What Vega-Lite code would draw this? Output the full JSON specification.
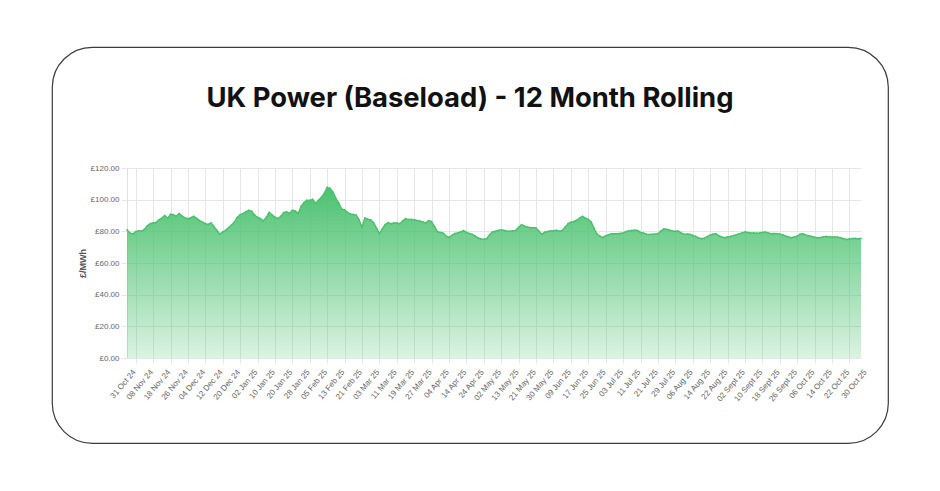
{
"$schema": "https://vega.github.io/schema/vega-lite/v6.json",
"width": 836, "height": 396,
"autosize": {"type": "none"},
"padding": {"left": 52, "top": 47, "right": 52, "bottom": 48},
"background": "white",
"title": {"text": "UK Power (Baseload) - 12 Month Rolling", "font": "Inter", "fontSize": 27.4, "fontWeight": 700, "color": "#111111", "anchor": "middle", "frame": "group", "offset": -87, "baseline": "alphabetic"},
"data": {"values": [
{"d":"31 Oct 24","p":81.0},{"d":"01 Nov 24","p":79.0},{"d":"04 Nov 24","p":78.2},{"d":"05 Nov 24","p":79.8},{"d":"06 Nov 24","p":80.3},{"d":"07 Nov 24","p":80.0},{"d":"08 Nov 24","p":81.2},{"d":"11 Nov 24","p":83.5},{"d":"12 Nov 24","p":84.8},{"d":"13 Nov 24","p":85.3},{"d":"14 Nov 24","p":85.6},{"d":"15 Nov 24","p":87.2},{"d":"18 Nov 24","p":88.4},{"d":"19 Nov 24","p":90.0},{"d":"20 Nov 24","p":88.2},{"d":"21 Nov 24","p":90.8},{"d":"22 Nov 24","p":90.5},{"d":"25 Nov 24","p":89.6},{"d":"26 Nov 24","p":91.2},{"d":"27 Nov 24","p":89.6},{"d":"28 Nov 24","p":88.5},{"d":"29 Nov 24","p":88.0},
{"d":"02 Dec 24","p":88.6},{"d":"03 Dec 24","p":89.5},{"d":"04 Dec 24","p":88.2},{"d":"05 Dec 24","p":86.8},{"d":"06 Dec 24","p":85.8},{"d":"09 Dec 24","p":84.8},{"d":"10 Dec 24","p":84.4},{"d":"11 Dec 24","p":85.3},{"d":"12 Dec 24","p":83.0},{"d":"13 Dec 24","p":80.5},{"d":"16 Dec 24","p":78.2},{"d":"17 Dec 24","p":79.6},{"d":"18 Dec 24","p":80.6},{"d":"19 Dec 24","p":82.3},{"d":"20 Dec 24","p":84.0},{"d":"23 Dec 24","p":85.8},{"d":"24 Dec 24","p":88.8},{"d":"27 Dec 24","p":90.6},{"d":"30 Dec 24","p":91.2},{"d":"31 Dec 24","p":92.4},
{"d":"02 Jan 25","p":93.3},{"d":"03 Jan 25","p":92.6},{"d":"06 Jan 25","p":90.2},{"d":"07 Jan 25","p":88.9},{"d":"08 Jan 25","p":88.0},{"d":"09 Jan 25","p":86.6},{"d":"10 Jan 25","p":88.8},{"d":"13 Jan 25","p":92.0},{"d":"14 Jan 25","p":90.4},{"d":"15 Jan 25","p":89.0},{"d":"16 Jan 25","p":88.1},{"d":"17 Jan 25","p":89.4},{"d":"20 Jan 25","p":91.8},{"d":"21 Jan 25","p":92.3},{"d":"22 Jan 25","p":91.4},{"d":"23 Jan 25","p":93.2},{"d":"24 Jan 25","p":92.8},{"d":"27 Jan 25","p":91.3},{"d":"28 Jan 25","p":95.8},{"d":"29 Jan 25","p":98.2},{"d":"30 Jan 25","p":99.6},{"d":"31 Jan 25","p":99.5},
{"d":"03 Feb 25","p":100.2},{"d":"04 Feb 25","p":97.6},{"d":"05 Feb 25","p":99.6},{"d":"06 Feb 25","p":101.5},{"d":"07 Feb 25","p":104.0},{"d":"10 Feb 25","p":107.8},{"d":"11 Feb 25","p":107.2},{"d":"12 Feb 25","p":104.8},{"d":"13 Feb 25","p":100.8},{"d":"14 Feb 25","p":97.8},{"d":"17 Feb 25","p":94.0},{"d":"18 Feb 25","p":93.5},{"d":"19 Feb 25","p":92.0},{"d":"20 Feb 25","p":90.9},{"d":"21 Feb 25","p":90.6},{"d":"24 Feb 25","p":90.2},{"d":"25 Feb 25","p":87.2},{"d":"26 Feb 25","p":82.6},{"d":"27 Feb 25","p":88.4},{"d":"28 Feb 25","p":87.6},
{"d":"03 Mar 25","p":87.2},{"d":"04 Mar 25","p":85.5},{"d":"05 Mar 25","p":82.0},{"d":"06 Mar 25","p":78.6},{"d":"07 Mar 25","p":81.5},{"d":"10 Mar 25","p":84.3},{"d":"11 Mar 25","p":85.5},{"d":"12 Mar 25","p":84.8},{"d":"13 Mar 25","p":85.2},{"d":"14 Mar 25","p":85.3},{"d":"17 Mar 25","p":84.8},{"d":"18 Mar 25","p":86.5},{"d":"19 Mar 25","p":88.0},{"d":"20 Mar 25","p":87.4},{"d":"21 Mar 25","p":87.5},{"d":"24 Mar 25","p":87.3},{"d":"25 Mar 25","p":86.8},{"d":"26 Mar 25","p":86.4},{"d":"27 Mar 25","p":85.9},{"d":"28 Mar 25","p":85.3},{"d":"31 Mar 25","p":86.8},
{"d":"01 Apr 25","p":86.2},{"d":"02 Apr 25","p":83.0},{"d":"03 Apr 25","p":79.8},{"d":"04 Apr 25","p":79.3},{"d":"07 Apr 25","p":78.8},{"d":"08 Apr 25","p":77.0},{"d":"09 Apr 25","p":76.2},{"d":"10 Apr 25","p":77.5},{"d":"11 Apr 25","p":78.6},{"d":"14 Apr 25","p":79.0},{"d":"15 Apr 25","p":79.6},{"d":"16 Apr 25","p":80.4},{"d":"17 Apr 25","p":79.3},{"d":"22 Apr 25","p":78.6},{"d":"23 Apr 25","p":78.1},{"d":"24 Apr 25","p":77.0},{"d":"25 Apr 25","p":75.8},{"d":"28 Apr 25","p":75.2},{"d":"29 Apr 25","p":75.0},{"d":"30 Apr 25","p":75.4},
{"d":"01 May 25","p":77.8},{"d":"02 May 25","p":79.6},{"d":"06 May 25","p":80.0},{"d":"07 May 25","p":80.6},{"d":"08 May 25","p":81.0},{"d":"09 May 25","p":80.6},{"d":"12 May 25","p":80.1},{"d":"13 May 25","p":80.0},{"d":"14 May 25","p":80.3},{"d":"15 May 25","p":80.6},{"d":"16 May 25","p":82.5},{"d":"19 May 25","p":84.2},{"d":"20 May 25","p":83.3},{"d":"21 May 25","p":82.7},{"d":"22 May 25","p":82.4},{"d":"23 May 25","p":82.3},{"d":"27 May 25","p":82.1},{"d":"28 May 25","p":80.0},{"d":"29 May 25","p":78.2},{"d":"30 May 25","p":79.4},
{"d":"02 Jun 25","p":79.9},{"d":"03 Jun 25","p":80.2},{"d":"04 Jun 25","p":80.4},{"d":"05 Jun 25","p":80.6},{"d":"06 Jun 25","p":80.0},{"d":"09 Jun 25","p":80.5},{"d":"10 Jun 25","p":82.6},{"d":"11 Jun 25","p":84.8},{"d":"12 Jun 25","p":85.7},{"d":"13 Jun 25","p":86.2},{"d":"16 Jun 25","p":87.0},{"d":"17 Jun 25","p":88.4},{"d":"18 Jun 25","p":89.4},{"d":"19 Jun 25","p":88.3},{"d":"20 Jun 25","p":87.6},{"d":"23 Jun 25","p":86.0},{"d":"24 Jun 25","p":81.7},{"d":"25 Jun 25","p":78.3},{"d":"26 Jun 25","p":77.0},{"d":"27 Jun 25","p":76.0},{"d":"30 Jun 25","p":77.2},
{"d":"01 Jul 25","p":77.8},{"d":"02 Jul 25","p":78.5},{"d":"03 Jul 25","p":78.4},{"d":"04 Jul 25","p":78.5},{"d":"07 Jul 25","p":78.7},{"d":"08 Jul 25","p":78.9},{"d":"09 Jul 25","p":79.8},{"d":"10 Jul 25","p":80.3},{"d":"11 Jul 25","p":80.6},{"d":"14 Jul 25","p":80.7},{"d":"15 Jul 25","p":80.5},{"d":"16 Jul 25","p":79.3},{"d":"17 Jul 25","p":78.9},{"d":"18 Jul 25","p":78.2},{"d":"21 Jul 25","p":78.0},{"d":"22 Jul 25","p":78.1},{"d":"23 Jul 25","p":78.2},{"d":"24 Jul 25","p":78.5},{"d":"25 Jul 25","p":80.2},{"d":"28 Jul 25","p":81.5},{"d":"29 Jul 25","p":81.3},{"d":"30 Jul 25","p":80.7},{"d":"31 Jul 25","p":80.2},
{"d":"01 Aug 25","p":80.0},{"d":"04 Aug 25","p":80.2},{"d":"05 Aug 25","p":79.0},{"d":"06 Aug 25","p":78.1},{"d":"07 Aug 25","p":78.2},{"d":"08 Aug 25","p":78.1},{"d":"11 Aug 25","p":77.4},{"d":"12 Aug 25","p":76.8},{"d":"13 Aug 25","p":75.8},{"d":"14 Aug 25","p":75.4},{"d":"15 Aug 25","p":75.5},{"d":"18 Aug 25","p":76.6},{"d":"19 Aug 25","p":77.6},{"d":"20 Aug 25","p":78.2},{"d":"21 Aug 25","p":78.5},{"d":"22 Aug 25","p":77.2},{"d":"26 Aug 25","p":76.4},{"d":"27 Aug 25","p":76.0},{"d":"28 Aug 25","p":76.4},{"d":"29 Aug 25","p":76.8},
{"d":"01 Sept 25","p":77.3},{"d":"02 Sept 25","p":77.8},{"d":"03 Sept 25","p":78.4},{"d":"04 Sept 25","p":79.0},{"d":"05 Sept 25","p":79.6},{"d":"08 Sept 25","p":79.2},{"d":"09 Sept 25","p":78.9},{"d":"10 Sept 25","p":79.0},{"d":"11 Sept 25","p":78.8},{"d":"12 Sept 25","p":78.9},{"d":"15 Sept 25","p":79.3},{"d":"16 Sept 25","p":79.5},{"d":"17 Sept 25","p":79.0},{"d":"18 Sept 25","p":78.5},{"d":"19 Sept 25","p":78.6},{"d":"22 Sept 25","p":78.5},{"d":"23 Sept 25","p":78.2},{"d":"24 Sept 25","p":77.8},{"d":"25 Sept 25","p":77.0},{"d":"26 Sept 25","p":76.4},{"d":"29 Sept 25","p":76.0},{"d":"30 Sept 25","p":76.4},
{"d":"01 Oct 25","p":76.9},{"d":"02 Oct 25","p":78.2},{"d":"03 Oct 25","p":78.4},{"d":"06 Oct 25","p":77.6},{"d":"07 Oct 25","p":77.2},{"d":"08 Oct 25","p":76.8},{"d":"09 Oct 25","p":76.3},{"d":"10 Oct 25","p":76.0},{"d":"13 Oct 25","p":76.1},{"d":"14 Oct 25","p":76.5},{"d":"15 Oct 25","p":76.8},{"d":"16 Oct 25","p":76.5},{"d":"17 Oct 25","p":76.4},{"d":"20 Oct 25","p":76.4},{"d":"21 Oct 25","p":76.3},{"d":"22 Oct 25","p":76.0},{"d":"23 Oct 25","p":75.3},{"d":"24 Oct 25","p":74.8},{"d":"27 Oct 25","p":75.2},{"d":"28 Oct 25","p":75.4},{"d":"29 Oct 25","p":75.5},{"d":"30 Oct 25","p":75.3},{"d":"31 Oct 25","p":75.5}
]},
"layer": [
{
"mark": {"type": "area", "interpolate": "linear", "color": {"gradient": "linear", "x1": 0, "y1": 1, "x2": 0, "y2": 0, "stops": [{"offset": 0, "color": "rgba(76,194,112,0.2)"}, {"offset": 1, "color": "rgba(76,194,112,1)"}]}},
"encoding": {
"x": {"field": "d", "type": "ordinal", "sort": null, "scale": {"type": "point", "range": [75, 809], "padding": 0},
"axis": {"orient": "top", "offset": -121, "values": ["05 Nov 24","13 Nov 24","21 Nov 24","29 Nov 24","09 Dec 24","17 Dec 24","27 Dec 24","07 Jan 25","15 Jan 25","23 Jan 25","31 Jan 25","10 Feb 25","18 Feb 25","26 Feb 25","06 Mar 25","14 Mar 25","24 Mar 25","01 Apr 25","09 Apr 25","17 Apr 25","29 Apr 25","08 May 25","16 May 25","27 May 25","04 Jun 25","12 Jun 25","20 Jun 25","30 Jun 25","08 Jul 25","16 Jul 25","24 Jul 25","01 Aug 25","11 Aug 25","19 Aug 25","28 Aug 25","05 Sept 25","15 Sept 25","23 Sept 25","01 Oct 25","09 Oct 25","17 Oct 25","27 Oct 25"], "labels": false, "title": null, "domain": false, "grid": true, "gridColor": "#e6e6e6", "gridWidth": 1, "ticks": false, "zindex": 0}},
"y": {"field": "p", "type": "quantitative", "scale": {"domain": [0, 120], "range": [311, 121], "nice": false, "zero": true},
"axis": {"orient": "left", "offset": -75, "values": [0, 20, 40, 60, 80, 100, 120], "labelExpr": "'£' + format(datum.value, '.2f')", "labelFont": "Liberation Sans", "labelFontSize": 8, "labelColor": "#666666", "labelPadding": 2, "tickSize": 6, "tickColor": "#e6e6e6", "grid": true, "gridColor": "#e6e6e6", "domain": true, "domainColor": "#e0e0e0", "title": "£/MWh", "titleFont": "Liberation Sans", "titleFontSize": 9, "titleFontWeight": "bold", "titleColor": "#555555", "titlePadding": 3, "zindex": 0}}
}
},
{
"mark": {"type": "line", "color": "#4cc270", "strokeWidth": 1.5, "interpolate": "linear"},
"encoding": {
"x": {"field": "d", "type": "ordinal", "sort": null, "scale": {"type": "point", "range": [75, 809], "padding": 0},
"axis": {"orient": "bottom", "offset": -85, "values": ["31 Oct 24","08 Nov 24","18 Nov 24","26 Nov 24","04 Dec 24","12 Dec 24","20 Dec 24","02 Jan 25","10 Jan 25","20 Jan 25","28 Jan 25","05 Feb 25","13 Feb 25","21 Feb 25","03 Mar 25","11 Mar 25","19 Mar 25","27 Mar 25","04 Apr 25","14 Apr 25","24 Apr 25","02 May 25","13 May 25","21 May 25","30 May 25","09 Jun 25","17 Jun 25","25 Jun 25","03 Jul 25","11 Jul 25","21 Jul 25","29 Jul 25","06 Aug 25","14 Aug 25","22 Aug 25","02 Sept 25","10 Sept 25","18 Sept 25","26 Sept 25","06 Oct 25","14 Oct 25","22 Oct 25","30 Oct 25"], "grid": false, "ticks": false, "tickSize": 0, "domain": false, "title": null, "labelAngle": -50, "labelAlign": "right", "labelBaseline": "top", "labelPadding": 10, "labelOffset": 4, "labelFont": "Liberation Sans", "labelFontSize": 8, "labelColor": "#666666", "labelOverlap": false, "labelBound": false}},
"y": {"field": "p", "type": "quantitative", "scale": {"domain": [0, 120], "range": [311, 121], "nice": false, "zero": true},
"axis": {"orient": "left", "offset": -75, "values": [0, 20, 40, 60, 80, 100, 120], "labelExpr": "'£' + format(datum.value, '.2f')", "labelFont": "Liberation Sans", "labelFontSize": 8, "labelColor": "#666666", "labelPadding": 2, "tickSize": 6, "tickColor": "#e6e6e6", "grid": true, "gridColor": "#e6e6e6", "domain": true, "domainColor": "#e0e0e0", "title": "£/MWh", "titleFont": "Liberation Sans", "titleFontSize": 9, "titleFontWeight": "bold", "titleColor": "#555555", "titlePadding": 3, "zindex": 0}}
}
},
{
"mark": {"type": "point", "filled": true, "size": 3, "color": "#4cc270", "opacity": 1},
"encoding": {
"x": {"field": "d", "type": "ordinal", "sort": null, "scale": {"type": "point", "range": [75, 809], "padding": 0},
"axis": {"orient": "bottom", "offset": -85, "values": ["05 Nov 24","13 Nov 24","21 Nov 24","29 Nov 24","09 Dec 24","17 Dec 24","27 Dec 24","07 Jan 25","15 Jan 25","23 Jan 25","31 Jan 25","10 Feb 25","18 Feb 25","26 Feb 25","06 Mar 25","14 Mar 25","24 Mar 25","01 Apr 25","09 Apr 25","17 Apr 25","29 Apr 25","08 May 25","16 May 25","27 May 25","04 Jun 25","12 Jun 25","20 Jun 25","30 Jun 25","08 Jul 25","16 Jul 25","24 Jul 25","01 Aug 25","11 Aug 25","19 Aug 25","28 Aug 25","05 Sept 25","15 Sept 25","23 Sept 25","01 Oct 25","09 Oct 25","17 Oct 25","27 Oct 25"], "labels": false, "title": null, "domain": false, "grid": false, "ticks": true, "tickSize": 5, "tickColor": "#e6e6e6", "zindex": 0}},
"y": {"field": "p", "type": "quantitative", "scale": {"domain": [0, 120], "range": [311, 121], "nice": false, "zero": true},
"axis": {"orient": "left", "offset": -75, "values": [0, 20, 40, 60, 80, 100, 120], "labelExpr": "'£' + format(datum.value, '.2f')", "labelFont": "Liberation Sans", "labelFontSize": 8, "labelColor": "#666666", "labelPadding": 2, "tickSize": 6, "tickColor": "#e6e6e6", "grid": true, "gridColor": "#e6e6e6", "domain": true, "domainColor": "#e0e0e0", "title": "£/MWh", "titleFont": "Liberation Sans", "titleFontSize": 9, "titleFontWeight": "bold", "titleColor": "#555555", "titlePadding": 3, "zindex": 0}}
}
}
],
"resolve": {"axis": {"x": "independent"}},
"config": {"view": {"stroke": "#3c3c3c", "strokeWidth": 1.2, "cornerRadius": 40, "fill": "white"}}
}
